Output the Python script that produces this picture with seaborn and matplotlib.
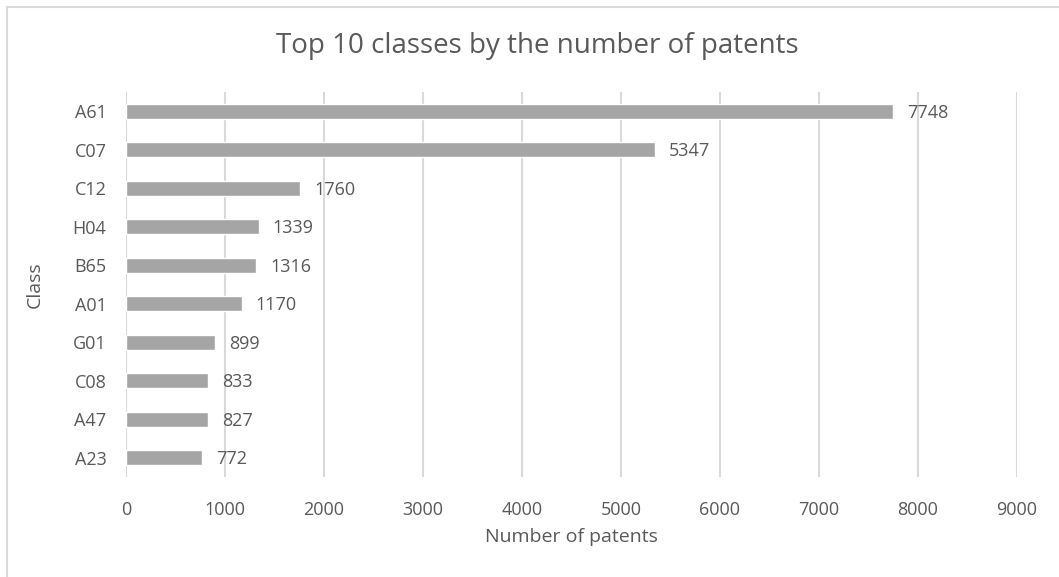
import matplotlib
matplotlib.use("Agg")
import matplotlib.pyplot as plt
from matplotlib.lines import Line2D
import seaborn as sns
import pandas as pd

classes = ["A61", "C07", "C12", "H04", "B65", "A01", "G01", "C08", "A47", "A23"]
patents = [7748, 5347, 1760, 1339, 1316, 1170, 899, 833, 827, 772]
x_ticks = [0, 1000, 2000, 3000, 4000, 5000, 6000, 7000, 8000, 9000]

df = pd.DataFrame({"Class": classes, "Patents": patents})

sns.set_theme(style="white")
plt.rcParams["font.family"] = ["Open Sans", "DejaVu Sans"]
text_color = "#595959"
grid_color = "#d9d9d9"
bar_color = "#a5a5a5"

fig = plt.figure(figsize=(10.59, 5.77), dpi=100)
ax = fig.add_axes([126 / 1059, 1 - 477 / 577, (1017 - 126) / 1059, (477 - 92) / 577])

sns.barplot(data=df, y="Class", x="Patents", order=classes, color=bar_color,
            width=0.38, saturation=1, ax=ax, zorder=3)

ax.set_xlim(0, 9000)
ax.set_ylim(len(classes) - 0.5, -0.5)
ax.set_xticks(x_ticks)
ax.set_xticklabels([str(t) for t in x_ticks])
ax.xaxis.grid(True, color=grid_color, linewidth=1.5, zorder=0)
ax.yaxis.grid(False)
for s in ax.spines.values():
    s.set_visible(False)
ax.tick_params(axis="both", length=0, labelsize=13, colors=text_color)
ax.tick_params(axis="x", pad=17)
ax.tick_params(axis="y", pad=14)

for i, v in enumerate(patents):
    ax.annotate(str(v), xy=(v, i), xytext=(10, -1), textcoords="offset points",
                va="center", ha="left", fontsize=13, color=text_color)

ax.set_xlabel("Number of patents", fontsize=14, color=text_color)
ax.set_ylabel("Class", fontsize=14, color=text_color)
ax.xaxis.set_label_coords(0.5, (477 - 537) / 385, transform=ax.transAxes)
ax.xaxis.label.set_va("center")
ax.yaxis.set_label_coords((35 - 126) / 891, 0.5, transform=ax.transAxes)
ax.yaxis.label.set_va("center")

fig.text(537 / 1059, 1 - 46 / 577, "Top 10 classes by the number of patents",
         ha="center", va="center", fontsize=20, color=text_color)

# Chart frame (top and left edges)
fig.add_artist(Line2D([7 / 1059, 1.0], [1 - 7 / 577, 1 - 7 / 577],
                      transform=fig.transFigure, color=grid_color, linewidth=1.5))
fig.add_artist(Line2D([7 / 1059, 7 / 1059], [0.0, 1 - 7 / 577],
                      transform=fig.transFigure, color=grid_color, linewidth=1.5))

fig.savefig("out.png", dpi=100, facecolor="white")
